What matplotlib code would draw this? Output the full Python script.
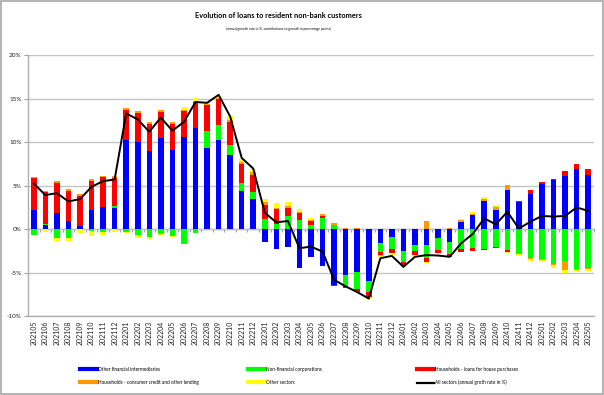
import numpy as np
import matplotlib
matplotlib.use('Agg')
import matplotlib.pyplot as plt
from matplotlib.lines import Line2D
from matplotlib.patches import Rectangle

months = ['202105', '202106', '202107', '202108', '202109', '202110', '202111', '202112',
          '202201', '202202', '202203', '202204', '202205', '202206', '202207', '202208',
          '202209', '202210', '202211', '202212', '202301', '202302', '202303', '202304',
          '202305', '202306', '202307', '202308', '202309', '202310', '202311', '202312',
          '202401', '202402', '202403', '202404', '202405', '202406', '202407', '202408',
          '202409', '202410', '202411', '202412', '202501', '202502', '202503', '202504',
          '202505']

other_fin = [2.14, 0.45, 1.80, 0.92, 0.30, 2.14, 2.48, 2.40,
             10.27, 9.96, 8.97, 10.50, 9.08, 10.60, 11.60, 9.35,
             10.27, 8.55, 4.39, 3.40, -1.45, -2.29, -2.02, -4.45,
             -3.24, -4.20, -6.41, -5.27, -4.96, -6.03, -1.56, -0.88,
             -2.52, -1.83, -1.83, -0.99, -1.45, 0.76, 1.64, 3.20,
             2.18, 4.54, 3.13, 4.08, 5.19, 5.61, 6.10, 6.87,
             6.18]
non_fin = [-0.65, 0.10, -1.07, -1.03, 0.10, -0.25, -0.30, 0.25,
           -0.30, -0.70, -0.90, -0.60, -0.75, -1.70, -0.50, 1.87,
           1.71, 1.07, 0.92, 0.87, 1.10, 0.53, 1.55, 1.03,
           0.50, 1.22, 0.50, -1.33, -1.95, -1.22, -1.04, -1.43,
           -1.22, -0.69, -1.53, -1.41, -1.45, -2.29, -2.21, -2.33,
           -2.02, -2.40, -2.86, -3.28, -3.47, -4.00, -3.66, -4.62,
           -4.43]
hh_house = [3.76, 3.72, 3.50, 3.48, 3.40, 3.43, 3.47, 3.25,
            3.39, 3.34, 3.13, 2.90, 3.02, 2.95, 2.98, 3.05,
            2.95, 2.67, 2.13, 1.91, 1.65, 1.80, 0.90, 0.77,
            0.42, 0.31, -0.10, -0.20, -0.30, -0.57, -0.38, -0.48,
            -0.46, -0.46, -0.38, -0.39, -0.34, -0.34, -0.35, -0.07,
            -0.16, -0.20, 0.07, 0.35, 0.19, 0.19, 0.58, 0.57,
            0.77]
hh_consumer = [0.10, 0.08, 0.20, 0.20, 0.20, 0.13, 0.15, 0.20,
               0.20, 0.30, 0.20, 0.30, 0.20, 0.15, 0.10, 0.10,
               0.10, 0.21, 0.26, 0.32, 0.30, 0.12, 0.19, 0.20,
               0.11, 0.19, 0.23, 0.12, 0.08, 0.05, -0.12, 0.00,
               0.00, 0.00, 0.92, 0.00, 0.15, 0.27, 0.12, 0.20,
               0.30, 0.50, 0.00, -0.16, -0.12, -0.15, -1.11, -0.08,
               -0.19]
other_sect = [-0.07, -0.40, -0.30, -0.37, -0.50, -0.55, -0.35, -0.30,
              -0.20, -0.34, -0.20, -0.20, -0.20, 0.35, 0.40, 0.10,
              0.30, 0.44, 0.40, 0.45, 0.35, 0.49, 0.41, 0.30,
              0.19, -0.08, 0.00, 0.00, 0.00, -0.18, -0.10, -0.17,
              -0.08, -0.19, -0.12, -0.10, 0.00, 0.12, 0.14, 0.30,
              0.27, -0.19, -0.19, -0.19, -0.23, -0.28, -0.31, -0.22,
              -0.19]
all_sectors = [5.23, 3.90, 4.12, 3.17, 3.43, 4.85, 5.50, 5.69,
               13.28, 12.60, 11.18, 12.80, 11.30, 12.30, 14.60, 14.50,
               15.42, 12.94, 8.17, 6.95, 1.87, 0.76, 0.92, -2.21,
               -2.02, -2.60, -5.84, -6.60, -7.25, -8.00, -3.36, -3.09,
               -4.35, -3.20, -3.00, -3.05, -3.20, -1.64, -0.57, 1.22,
               0.53, 1.98, 0.05, 0.84, 1.50, 1.43, 1.50, 2.48,
               2.08]

series_labels = ['Other financial intermediaries', 'Non-financial corporations',
                 'Households - loans for house purchases',
                 'Households - consumer credit and other lending', 'Other sectors']
line_label = 'All sectors (annual groth rate in %)'
colors = ['#0000FF', '#00FF00', '#FF0000', '#FF9900', '#FFFF00']

plt.rcParams['font.family'] = ['Lato', 'DejaVu Sans']

W, H = 604, 395
fig = plt.figure(figsize=(W / 100, H / 100), dpi=100)
ax = fig.add_axes([28 / W, 1 - 316 / H, 566 / W, 261 / H])

n = len(months)
x = np.arange(n)
pos_base = np.zeros(n)
neg_base = np.zeros(n)
for vals, c in zip([other_fin, non_fin, hh_house, hh_consumer, other_sect], colors):
    v = np.array(vals, dtype=float)
    bottom = np.where(v >= 0, pos_base, neg_base)
    ax.bar(x, v, bottom=bottom, width=0.48, color=c, linewidth=0, zorder=3)
    pos_base += np.clip(v, 0, None)
    neg_base += np.clip(v, None, 0)

ax.plot(x, all_sectors, color='black', lw=1.4, zorder=5)

ax.set_xlim(-0.5, n - 0.5)
ax.set_ylim(-10, 20)
yt = np.arange(-10, 21, 5)
ax.set_yticks(yt)
ax.set_yticklabels([f'{t}%' for t in yt])
ax.yaxis.grid(True, color='#c4c4c4', lw=1.0)
ax.set_axisbelow(True)
for s in ['top', 'right']:
    ax.spines[s].set_visible(False)
for s in ['left', 'bottom']:
    ax.spines[s].set_color('#b0b0b0')
    ax.spines[s].set_linewidth(1.0)
ax.tick_params(axis='y', length=3, color='#a0a0a0', labelsize=4.6, pad=1.5,
               labelcolor='#222222')
ax.set_xticks(x)
ax.set_xticklabels(months, rotation=90, fontsize=5.0, color='#222222')
ax.tick_params(axis='x', length=0, pad=3.5)

# zero (category) axis with tick marks between categories
sec = ax.secondary_xaxis(1 / 3)
sec.set_xticks(np.arange(n + 1) - 0.5)
sec.tick_params(axis='x', length=2, color='#a0a0a0', labelbottom=False, direction='out')
sec.spines['bottom'].set_color('#a0a0a0')
sec.spines['bottom'].set_linewidth(1.0)

fig.text(278.5 / W, 1 - 16 / H, 'Evolution of loans to resident non-bank customers',
         ha='center', va='center', fontsize=5.3, fontweight='bold')
fig.text(278.5 / W, 1 - 29 / H,
         '(annual growth rate in %, contributions to growth in percentage points)',
         ha='center', va='center', fontsize=2.4)

handles = [Line2D([], [], color=c, lw=3) for c in colors]
line_handle = Line2D([], [], color='black', lw=1.6)
cols = [
    (80, [handles[0], handles[3]], [series_labels[0], series_labels[3]]),
    (248, [handles[1], handles[4]], [series_labels[1], series_labels[4]]),
    (417, [handles[2], line_handle], [series_labels[2], line_label]),
]
for xpos, hs, ls in cols:
    leg = fig.legend(hs, ls, loc='center left', bbox_to_anchor=(xpos / W, 1 - 376 / H),
                     bbox_transform=fig.transFigure, frameon=False, fontsize=3.4,
                     handlelength=3.6, handletextpad=0.3, borderpad=0, borderaxespad=0,
                     labelspacing=1.7)

fig.patches.append(Rectangle((0.001, 0.0015), 0.997, 0.996, transform=fig.transFigure,
                             fill=False, edgecolor='#a6a6a6', lw=1.2))

fig.savefig('out.png', dpi=100)
